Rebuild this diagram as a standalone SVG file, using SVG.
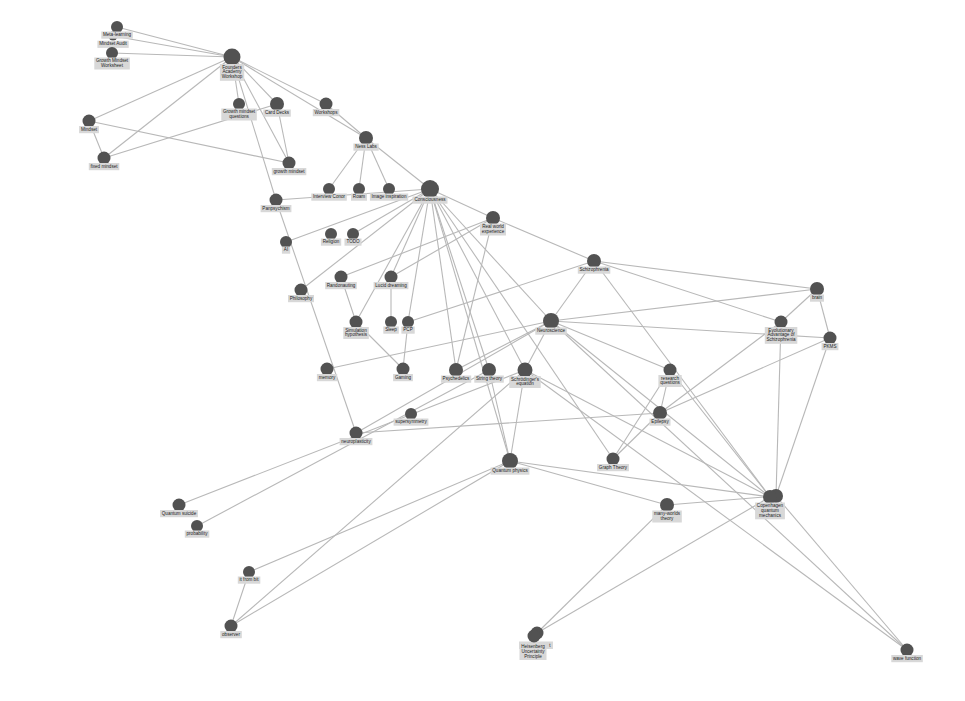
<svg xmlns="http://www.w3.org/2000/svg" width="965" height="701" viewBox="0 0 965 701">
<style>
.e line{stroke:#b8b8b8;stroke-width:1.1;fill:none}
.n circle{fill:#525252}
.n rect{fill:#d8d8d8}
.n text{font-family:"Liberation Sans",Arial,sans-serif;font-size:4.6px;fill:#222;text-anchor:middle}
</style>
<rect width="965" height="701" fill="#fff"/>
<g id="edges" class="e">
<line x1="232" y1="57" x2="117" y2="27"/>
<line x1="232" y1="57" x2="113" y2="36"/>
<line x1="232" y1="57" x2="112" y2="53"/>
<line x1="232" y1="57" x2="89" y2="121"/>
<line x1="232" y1="57" x2="104" y2="158"/>
<line x1="232" y1="57" x2="239" y2="104"/>
<line x1="232" y1="57" x2="277" y2="104"/>
<line x1="232" y1="57" x2="289" y2="163"/>
<line x1="232" y1="57" x2="326" y2="104"/>
<line x1="232" y1="57" x2="366" y2="138"/>
<line x1="232" y1="57" x2="276" y2="200"/>
<line x1="89" y1="121" x2="104" y2="158"/>
<line x1="89" y1="121" x2="289" y2="163"/>
<line x1="104" y1="158" x2="277" y2="104"/>
<line x1="277" y1="104" x2="289" y2="163"/>
<line x1="326" y1="104" x2="366" y2="138"/>
<line x1="366" y1="138" x2="329" y2="189"/>
<line x1="366" y1="138" x2="359" y2="189"/>
<line x1="366" y1="138" x2="389" y2="189"/>
<line x1="366" y1="138" x2="430" y2="189"/>
<line x1="276" y1="200" x2="430" y2="189"/>
<line x1="276" y1="200" x2="356" y2="433"/>
<line x1="430" y1="189" x2="286" y2="242"/>
<line x1="430" y1="189" x2="353" y2="234"/>
<line x1="430" y1="189" x2="301" y2="290"/>
<line x1="430" y1="189" x2="356" y2="322"/>
<line x1="430" y1="189" x2="391" y2="277"/>
<line x1="430" y1="189" x2="408" y2="322"/>
<line x1="430" y1="189" x2="456" y2="370"/>
<line x1="430" y1="189" x2="489" y2="370"/>
<line x1="430" y1="189" x2="510" y2="461"/>
<line x1="430" y1="189" x2="525" y2="370"/>
<line x1="430" y1="189" x2="551" y2="321"/>
<line x1="430" y1="189" x2="613" y2="459"/>
<line x1="430" y1="189" x2="493" y2="218"/>
<line x1="493" y1="218" x2="341" y2="277"/>
<line x1="493" y1="218" x2="391" y2="277"/>
<line x1="493" y1="218" x2="456" y2="370"/>
<line x1="493" y1="218" x2="594" y2="261"/>
<line x1="341" y1="277" x2="356" y2="322"/>
<line x1="356" y1="322" x2="403" y2="369"/>
<line x1="391" y1="277" x2="391" y2="322"/>
<line x1="408" y1="322" x2="403" y2="369"/>
<line x1="408" y1="322" x2="594" y2="261"/>
<line x1="594" y1="261" x2="551" y2="321"/>
<line x1="594" y1="261" x2="817" y2="289"/>
<line x1="594" y1="261" x2="781" y2="322"/>
<line x1="594" y1="261" x2="770" y2="497"/>
<line x1="817" y1="289" x2="551" y2="321"/>
<line x1="817" y1="289" x2="781" y2="322"/>
<line x1="817" y1="289" x2="830" y2="338"/>
<line x1="551" y1="321" x2="830" y2="338"/>
<line x1="551" y1="321" x2="327" y2="369"/>
<line x1="551" y1="321" x2="525" y2="370"/>
<line x1="551" y1="321" x2="670" y2="370"/>
<line x1="551" y1="321" x2="456" y2="370"/>
<line x1="551" y1="321" x2="356" y2="433"/>
<line x1="551" y1="321" x2="770" y2="497"/>
<line x1="551" y1="321" x2="907" y2="650"/>
<line x1="781" y1="322" x2="776" y2="496"/>
<line x1="781" y1="322" x2="660" y2="413"/>
<line x1="830" y1="338" x2="660" y2="413"/>
<line x1="830" y1="338" x2="776" y2="496"/>
<line x1="670" y1="370" x2="660" y2="413"/>
<line x1="670" y1="370" x2="613" y2="459"/>
<line x1="670" y1="370" x2="770" y2="497"/>
<line x1="660" y1="413" x2="613" y2="459"/>
<line x1="660" y1="413" x2="356" y2="433"/>
<line x1="525" y1="370" x2="510" y2="461"/>
<line x1="525" y1="370" x2="231" y2="626"/>
<line x1="525" y1="370" x2="770" y2="497"/>
<line x1="525" y1="370" x2="907" y2="650"/>
<line x1="525" y1="370" x2="179" y2="505"/>
<line x1="489" y1="370" x2="510" y2="461"/>
<line x1="489" y1="370" x2="197" y2="526"/>
<line x1="510" y1="461" x2="770" y2="497"/>
<line x1="510" y1="461" x2="667" y2="505"/>
<line x1="510" y1="461" x2="249" y2="572"/>
<line x1="510" y1="461" x2="231" y2="626"/>
<line x1="231" y1="626" x2="249" y2="572"/>
<line x1="667" y1="505" x2="776" y2="496"/>
<line x1="667" y1="505" x2="537" y2="633"/>
<line x1="537" y1="633" x2="770" y2="497"/>
<line x1="776" y1="496" x2="907" y2="650"/>
</g>
<g id="nodes" class="n">
<g id="mindset-audit"><circle cx="113" cy="36" r="4.5"/><rect x="97.4" y="40.7" width="31.3" height="7.2"/><text x="113" y="45.4">Mindset Audit</text></g>
<g id="meta-learning"><circle cx="117" cy="27" r="6"/><rect x="101.3" y="31.5" width="31.5" height="7.2"/><text x="117" y="36.1">Meta-learning</text></g>
<g id="growth-mindset-worksheet"><circle cx="112" cy="53" r="6"/><rect x="94.3" y="57.5" width="35.5" height="12"/><text x="112" y="62.1">Growth Mindset<tspan x="112" dy="4.8">Worksheet</tspan></text></g>
<g id="founders"><circle cx="232" cy="57" r="8.5"/><rect x="219.9" y="64" width="24.3" height="16.8"/><text x="232" y="68.6">Founders<tspan x="232" dy="4.8">Academy</tspan><tspan x="232" dy="4.8">Workshop</tspan></text></g>
<g id="growth-mindset-questions"><circle cx="239" cy="104" r="6"/><rect x="221.3" y="108.5" width="35.5" height="12"/><text x="239" y="113.1">Growth mindset<tspan x="239" dy="4.8">questions</tspan></text></g>
<g id="card-decks"><circle cx="277" cy="104" r="7"/><rect x="263.3" y="109.5" width="27.5" height="7.2"/><text x="277" y="114.1">Card Decks</text></g>
<g id="workshops"><circle cx="326" cy="104" r="6.5"/><rect x="312.8" y="109" width="26.5" height="7.2"/><text x="326" y="113.6">Workshops</text></g>
<g id="mindset"><circle cx="89" cy="121" r="6.5"/><rect x="79.1" y="126" width="19.8" height="7.2"/><text x="89" y="130.6">Mindset</text></g>
<g id="fixed-mindset"><circle cx="104" cy="158" r="6.5"/><rect x="88.8" y="163" width="30.5" height="7.2"/><text x="104" y="167.6">fixed mindset</text></g>
<g id="growth-mindset"><circle cx="289" cy="163" r="6.5"/><rect x="271.8" y="168" width="34.5" height="7.2"/><text x="289" y="172.6">growth mindset</text></g>
<g id="ness-labs"><circle cx="366" cy="138" r="7"/><rect x="353.4" y="143.5" width="25.3" height="7.2"/><text x="366" y="148.1">Ness Labs</text></g>
<g id="interview-conor"><circle cx="329" cy="189" r="6"/><rect x="311.3" y="193.5" width="35.5" height="7.2"/><text x="329" y="198.1">Interview Conor</text></g>
<g id="roam"><circle cx="359" cy="189" r="6"/><rect x="351" y="193.5" width="16" height="7.2"/><text x="359" y="198.1">Roam</text></g>
<g id="image-inspiration"><circle cx="389" cy="189" r="6"/><rect x="369.9" y="193.5" width="38.3" height="7.2"/><text x="389" y="198.1">Image inspiration</text></g>
<g id="consciousness"><circle cx="430" cy="189" r="9"/><rect x="412.5" y="196.5" width="35" height="7.2"/><text x="430" y="201.1">Consciousness</text></g>
<g id="panpsychism"><circle cx="276" cy="200" r="6.5"/><rect x="260.6" y="205" width="30.8" height="7.2"/><text x="276" y="209.6">Panpsychism</text></g>
<g id="religion"><circle cx="331" cy="234" r="6"/><rect x="320.9" y="238.5" width="20.3" height="7.2"/><text x="331" y="243.1">Religion</text></g>
<g id="todo"><circle cx="353" cy="234" r="6"/><rect x="344.5" y="238.5" width="17" height="7.2"/><text x="353" y="243.1">TODO</text></g>
<g id="ai"><circle cx="286" cy="242" r="6"/><rect x="281.9" y="246.5" width="8.3" height="7.2"/><text x="286" y="251.1">AI</text></g>
<g id="real-world-experience"><circle cx="493" cy="218" r="7"/><rect x="480" y="223.5" width="26" height="12"/><text x="493" y="228.1">Real world<tspan x="493" dy="4.8">experience</tspan></text></g>
<g id="randonauting"><circle cx="341" cy="277" r="6.5"/><rect x="325.2" y="282" width="31.6" height="7.2"/><text x="341" y="286.6">Randonauting</text></g>
<g id="lucid-dreaming"><circle cx="391" cy="277" r="6.5"/><rect x="373.6" y="282" width="34.8" height="7.2"/><text x="391" y="286.6">Lucid dreaming</text></g>
<g id="philosophy"><circle cx="301" cy="290" r="6.5"/><rect x="288" y="295" width="26" height="7.2"/><text x="301" y="299.6">Philosophy</text></g>
<g id="simulation-hypothesis"><circle cx="356" cy="322" r="6.5"/><rect x="343.3" y="327" width="25.5" height="12"/><text x="356" y="331.6">Simulation<tspan x="356" dy="4.8">hypothesis</tspan></text></g>
<g id="sleep"><circle cx="391" cy="322" r="6"/><rect x="383.3" y="326.5" width="15.5" height="7.2"/><text x="391" y="331.1">Sleep</text></g>
<g id="pcp"><circle cx="408" cy="322" r="6"/><rect x="401.4" y="326.5" width="13.3" height="7.2"/><text x="408" y="331.1">PCP</text></g>
<g id="schizophrenia"><circle cx="594" cy="261" r="7"/><rect x="577.8" y="266.5" width="32.5" height="7.2"/><text x="594" y="271.1">Schizophrenia</text></g>
<g id="brain"><circle cx="817" cy="289" r="7"/><rect x="810" y="294.5" width="14" height="7.2"/><text x="817" y="299.1">brain</text></g>
<g id="neuroscience"><circle cx="551" cy="321" r="8"/><rect x="535.3" y="327.5" width="31.5" height="7.2"/><text x="551" y="332.1">Neuroscience</text></g>
<g id="evolutionary-advantage"><circle cx="781" cy="322" r="6.5"/><rect x="764.8" y="327" width="32.5" height="16.8"/><text x="781" y="331.6">Evolutionary<tspan x="781" dy="4.8">Advantage of</tspan><tspan x="781" dy="4.8">Schizophrenia</tspan></text></g>
<g id="pkms"><circle cx="830" cy="338" r="6.5"/><rect x="821.6" y="343" width="16.8" height="7.2"/><text x="830" y="347.6">PKMS</text></g>
<g id="memory"><circle cx="327" cy="369" r="6.5"/><rect x="316.9" y="374" width="20.3" height="7.2"/><text x="327" y="378.6">memory</text></g>
<g id="gaming"><circle cx="403" cy="369" r="6.5"/><rect x="393.1" y="374" width="19.8" height="7.2"/><text x="403" y="378.6">Gaming</text></g>
<g id="psychedelics"><circle cx="456" cy="370" r="7"/><rect x="440.9" y="375.5" width="30.3" height="7.2"/><text x="456" y="380.1">Psychedelics</text></g>
<g id="string-theory"><circle cx="489" cy="370" r="7"/><rect x="474.3" y="375.5" width="29.5" height="7.2"/><text x="489" y="380.1">String theory</text></g>
<g id="schrodinger"><circle cx="525" cy="370" r="7.5"/><rect x="509.3" y="376" width="31.4" height="12"/><text x="525" y="380.6">Schrödinger's<tspan x="525" dy="4.8">equation</tspan></text></g>
<g id="research-questions"><circle cx="670" cy="370" r="6.5"/><rect x="658.4" y="375" width="23.3" height="12"/><text x="670" y="379.6">research<tspan x="670" dy="4.8">questions</tspan></text></g>
<g id="epilepsy"><circle cx="660" cy="413" r="7"/><rect x="649.5" y="418.5" width="21" height="7.2"/><text x="660" y="423.1">Epilepsy</text></g>
<g id="supersymmetry"><circle cx="411" cy="414" r="6"/><rect x="393.6" y="418.5" width="34.8" height="7.2"/><text x="411" y="423.1">supersymmetry</text></g>
<g id="neuroplasticity"><circle cx="356" cy="433" r="6.5"/><rect x="339.6" y="438" width="32.8" height="7.2"/><text x="356" y="442.6">neuroplasticity</text></g>
<g id="graph-theory"><circle cx="613" cy="459" r="6.5"/><rect x="597.1" y="464" width="31.8" height="7.2"/><text x="613" y="468.6">Graph Theory</text></g>
<g id="quantum-physics"><circle cx="510" cy="461" r="8"/><rect x="490.6" y="467.5" width="38.8" height="7.2"/><text x="510" y="472.1">Quantum physics</text></g>
<g id="copenhagen-2"><circle cx="776" cy="496" r="7"/></g>
<g id="copenhagen"><circle cx="770" cy="497" r="7"/><rect x="755.1" y="502.5" width="29.8" height="16.8"/><text x="770" y="507.1">Copenhagen<tspan x="770" dy="4.8">quantum</tspan><tspan x="770" dy="4.8">mechanics</tspan></text></g>
<g id="many-worlds"><circle cx="667" cy="505" r="7"/><rect x="652.3" y="510.5" width="29.5" height="12"/><text x="667" y="515.1">many-worlds<tspan x="667" dy="4.8">theory</tspan></text></g>
<g id="quantum-suicide"><circle cx="179" cy="505" r="6.5"/><rect x="160.1" y="510" width="37.8" height="7.2"/><text x="179" y="514.6">Quantum suicide</text></g>
<g id="probability"><circle cx="197" cy="526" r="6"/><rect x="184.8" y="530.5" width="24.5" height="7.2"/><text x="197" y="535.1">probability</text></g>
<g id="it-from-bit"><circle cx="249" cy="572" r="6"/><rect x="237.8" y="576.5" width="22.5" height="7.2"/><text x="249" y="581.1">it from bit</text></g>
<g id="observer"><circle cx="231" cy="626" r="6.5"/><rect x="220.3" y="631" width="21.5" height="7.2"/><text x="231" y="635.6">observer</text></g>
<g id="heisenberg-2"><circle cx="537" cy="633" r="6.5"/><rect x="519" y="641.5" width="34" height="7.5"/><text x="550.5" y="647.4" style="text-anchor:end">t</text></g>
<g id="heisenberg"><circle cx="534" cy="636" r="6.5"/><rect x="519.5" y="643" width="27" height="17"/><text x="533" y="648.3">Heisenberg<tspan x="533" dy="4.8">Uncertainty</tspan><tspan x="533" dy="4.8">Principle</tspan></text></g>
<g id="wave-function"><circle cx="907" cy="650" r="6.5"/><rect x="891.3" y="655" width="31.5" height="7.2"/><text x="907" y="659.6">wave function</text></g>
</g>
</svg>
